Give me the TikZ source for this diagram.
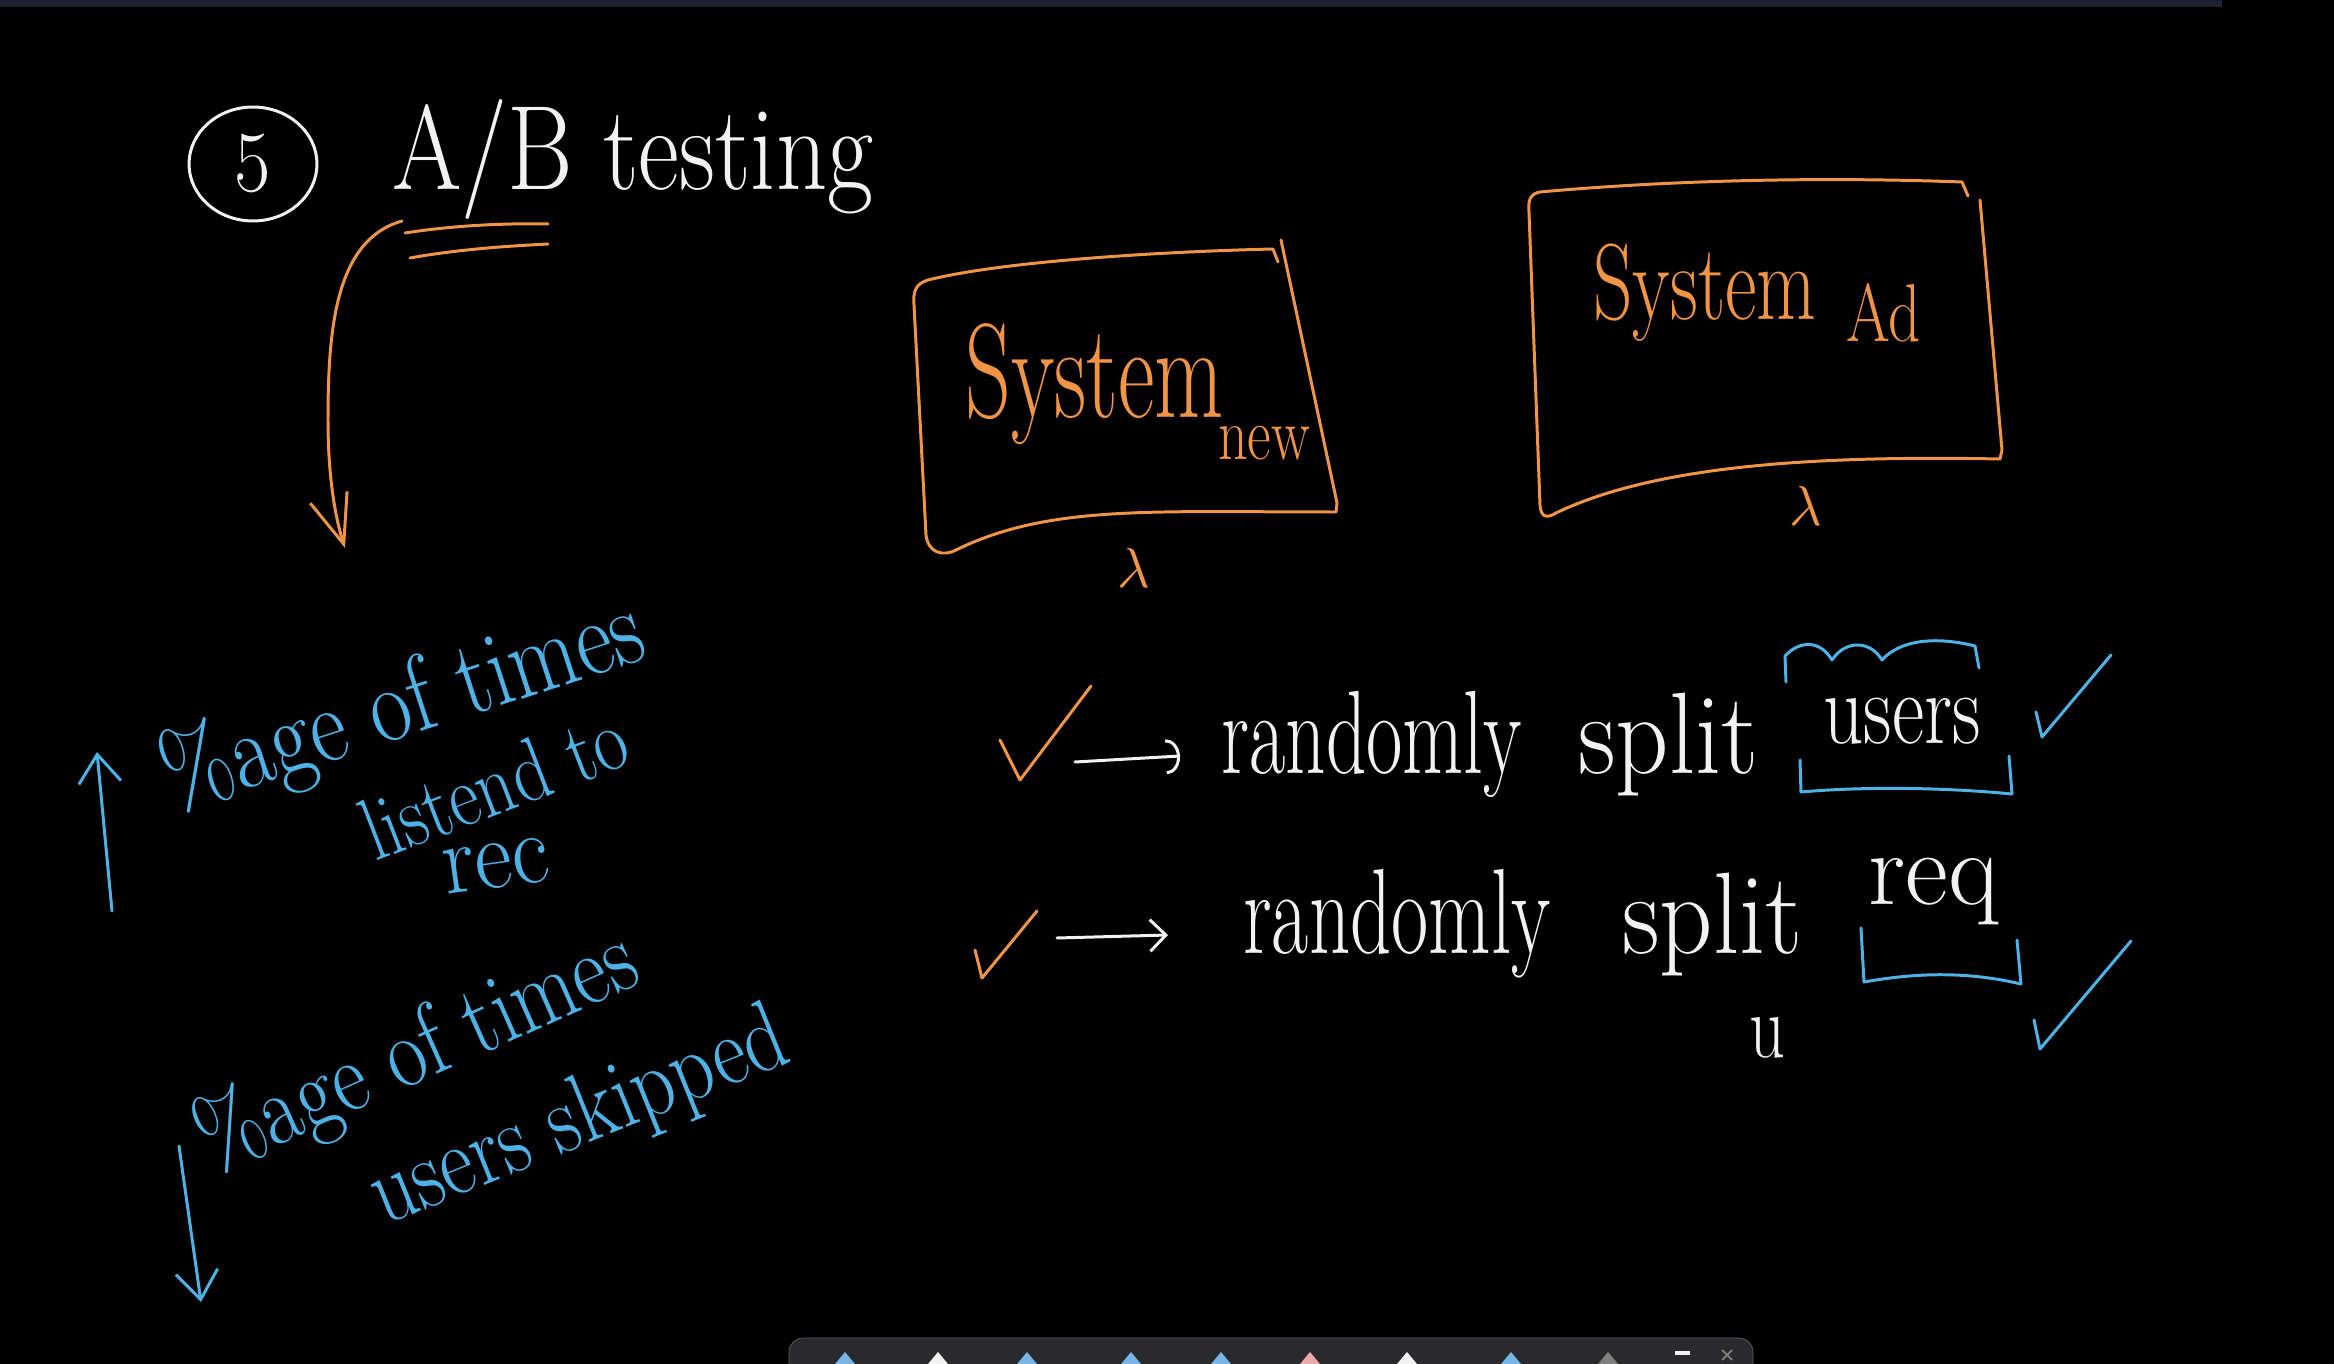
\documentclass[tikz,border=0pt]{standalone}
\usepackage{graphicx}
\usetikzlibrary{arrows.meta,shapes.geometric}
\definecolor{penorange}{RGB}{240,148,70}
\definecolor{penblue}{RGB}{78,178,230}
\definecolor{penwhite}{RGB}{242,242,242}
\definecolor{topbar}{RGB}{28,33,48}
\definecolor{toolgray}{RGB}{42,42,44}
\definecolor{toolborder}{RGB}{95,95,100}
\definecolor{iconblue}{RGB}{120,180,230}
\definecolor{iconpink}{RGB}{235,170,170}
\newcommand{\hwt}[3]{\scalebox{#1}[#2]{#3}}
\begin{document}
\begin{tikzpicture}[x=0.02cm,y=-0.02cm,
  pen/.style={line width=1.7pt, line cap=round, line join=round},
  ow/.style={pen, draw=penorange},
  bl/.style={pen, draw=penblue},
  wh/.style={pen, draw=penwhite},
  hw/.style={inner sep=0pt, anchor=base west},
  otxt/.style={hw, text=penorange},
  btxt/.style={hw, text=penblue},
  wtxt/.style={hw, text=penwhite},
  bigbarb/.style={-{Straight Barb[length=28pt,width=22pt]}},
  bluebarb/.style={-{Straight Barb[length=16pt,width=24pt]}},
]
\fill[black] (0,0) rectangle (2334,1364);
\useasboundingbox (0,0) rectangle (2334,1364);
% top bar
\fill[topbar] (0,0) rectangle (2222,7);
% bottom toolbar
\draw[fill=toolgray, draw=toolborder, rounded corners=8pt] (789,1338) rectangle (1753,1390);
\foreach \ix/\ic in {845/iconblue,938/penwhite,1027/iconblue,1131/iconblue,1221/iconblue,1310/iconpink,1407/penwhite,1511/iconblue,1608/gray}{
  \fill[\ic] (\ix-10,1364) -- (\ix,1352) -- (\ix+10,1364) -- cycle;
}
\fill[penwhite] (1675,1351) rectangle (1690,1355);
\draw[gray, line width=1pt] (1722,1350) -- (1732,1360) (1732,1350) -- (1722,1360);

% title
\node[draw=penwhite, line width=1.7pt, ellipse, minimum width=2.56cm, minimum height=2.28cm, inner sep=0pt, text=penwhite] (c5) at (253,164) {\fontsize{45pt}{50pt}\selectfont\hwt{1}{1.1}{5}};
\node[wtxt] (title) at (392,190) {\fontsize{57pt}{62pt}\selectfont\hwt{1}{1.2}{A/B testing}};
\draw[ow] (405,233) .. controls (450,226) and (500,223) .. (548,224);
\draw[ow] (410,258) .. controls (460,249) and (510,246) .. (548,244);
\coordinate (arrS) at (402,221);
\coordinate (arrE) at (345,548);
\draw[ow, bigbarb] (arrS) .. controls (335,240) and (328,330) .. (328,420) .. controls (328,480) and (336,520) .. (arrE);

% left system box
\draw[ow] (1278,262) -- (1273,249) .. controls (1150,252) and (1000,262) .. (928,280) .. controls (915,284) and (913,292) .. (914,305) -- (926,535) .. controls (928,552) and (942,558) .. (958,549) .. controls (1050,505) and (1150,512) .. (1336,512) -- (1337,503) -- (1281,240);
\node[otxt] (sysnew) at (965,418) {\fontsize{51pt}{56pt}\selectfont\hwt{1}{1.5}{System}};
\node[otxt] (new) at (1218,460) {\fontsize{33pt}{40pt}\selectfont\hwt{1}{1.3}{new}};
\node[text=penorange, inner sep=0pt] (lam1) at (1134,568) {\scalebox{3.2}{$\lambda$}};

% right system box
\draw[ow] (1968,196) -- (1962,182) .. controls (1800,176) and (1650,182) .. (1540,192) .. controls (1530,194) and (1528,200) .. (1529,212) -- (1540,505) .. controls (1541,517) and (1546,519) .. (1556,513) .. controls (1650,468) and (1800,455) .. (2000,459) -- (2002,450) -- (1980,200);
\node[otxt] (sysold) at (1593,320) {\fontsize{44pt}{50pt}\selectfont\hwt{1}{1.4}{System}};
\node[otxt] (ad) at (1846,342) {\fontsize{36pt}{42pt}\selectfont\hwt{1}{1.3}{Ad}};
\node[text=penorange, inner sep=0pt] (lam2) at (1806,506) {\scalebox{3.2}{$\lambda$}};

% row 1
\draw[ow] (1000,740) -- (1020,780) -- (1091,686);
\coordinate (a1s) at (1075,762);
\coordinate (a1e) at (1180,756);
\draw[wh, -{Arc Barb[length=8pt,width=20pt]}] (a1s) -- (a1e);
\node[wtxt] (rnd1) at (1221,774) {\fontsize{45pt}{50pt}\selectfont\hwt{1}{1.5}{randomly}};
\node[wtxt] (spl1) at (1578,774) {\fontsize{44pt}{50pt}\selectfont\hwt{1.35}{1.5}{split}};
\node[wtxt] (users) at (1823,744) {\fontsize{45pt}{50pt}\selectfont\hwt{1}{1.3}{users}};
\draw[bl] (1786,682) -- (1785,656) .. controls (1800,640) and (1820,640) .. (1832,660) .. controls (1845,640) and (1870,640) .. (1882,660) .. controls (1900,640) and (1935,636) .. (1975,646) -- (1979,668);
\draw[bl] (1800,760) -- (1801,792) .. controls (1870,786) and (1950,788) .. (2012,794) -- (2009,756);
\draw[bl] (2036,712) -- (2042,737) -- (2111,655);

% row 2
\draw[ow] (975,950) -- (982,978) -- (1037,911);
\coordinate (a2s) at (1057,938);
\coordinate (a2e) at (1168,935);
\draw[wh, -{Straight Barb[length=9pt,width=18pt]}] (a2s) -- (a2e);
\node[wtxt] (rnd2) at (1243,953) {\fontsize{46pt}{50pt}\selectfont\hwt{1}{1.5}{randomly}};
\node[wtxt] (spl2) at (1622,953) {\fontsize{44pt}{50pt}\selectfont\hwt{1.35}{1.5}{split}};
\node[wtxt] (req) at (1868,905) {\fontsize{46pt}{50pt}\selectfont\hwt{1.3}{1.3}{req}};
\node[wtxt] (u) at (1749,1057) {\fontsize{40pt}{46pt}\selectfont\hwt{1}{1.3}{u}};
\draw[bl] (1861,928) -- (1864,982) .. controls (1920,972) and (1970,972) .. (2021,984) -- (2017,940);
\draw[bl] (2034,1020) -- (2040,1049) -- (2131,941);

% left blue notes
\coordinate (up1) at (112,911);
\coordinate (up2) at (97,752);
\draw[bl, bluebarb] (up1) -- (up2);
\node[btxt, rotate=18] (l1) at (175,812) {\fontsize{51pt}{56pt}\selectfont\hwt{1}{1.2}{\%age of times}};
\node[btxt, rotate=21] (l2) at (375,862) {\fontsize{42pt}{48pt}\selectfont\hwt{1}{1.2}{listend to}};
\node[btxt, rotate=8] (l3) at (446,895) {\fontsize{52pt}{56pt}\selectfont\hwt{1}{1.1}{rec}};

\coordinate (dn1) at (179,1146);
\coordinate (dn2) at (201,1302);
\draw[bl, bluebarb] (dn1) -- (dn2);
\node[btxt, rotate=24] (l4) at (214,1174) {\fontsize{48pt}{52pt}\selectfont\hwt{1}{1.2}{\%age of times}};
\node[btxt, rotate=22] (l5) at (384,1226) {\fontsize{47pt}{52pt}\selectfont\hwt{1}{1.2}{users skipped}};
\end{tikzpicture}
\end{document}
